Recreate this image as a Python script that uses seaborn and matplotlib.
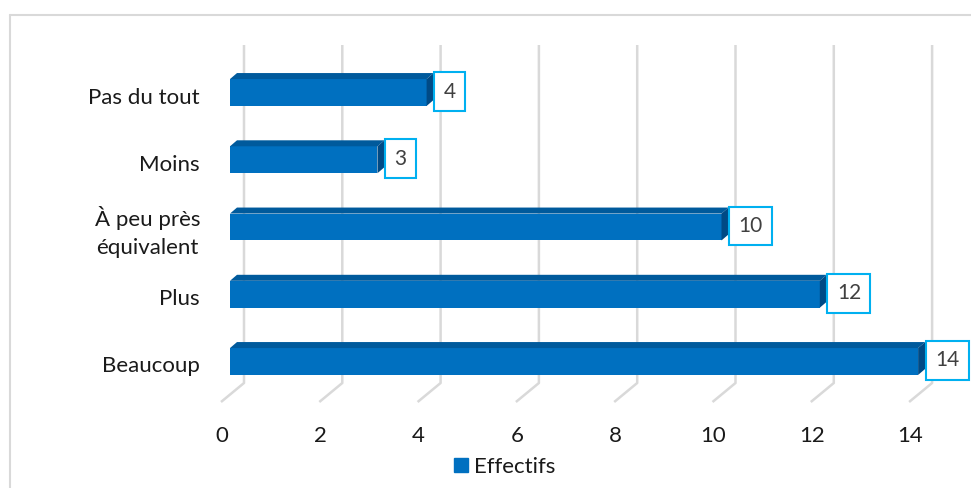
import matplotlib
matplotlib.use("Agg")
import matplotlib.pyplot as plt
from matplotlib.patches import Polygon, Patch
from matplotlib.lines import Line2D
import seaborn as sns
import pandas as pd

# Survey answers and their counts
categories = ["Pas du tout", "Moins", "À peu près\néquivalent", "Plus", "Beaucoup"]
effectifs = [4, 3, 10, 12, 14]
x_ticks = [0, 2, 4, 6, 8, 10, 12, 14]
series_name = "Effectifs"

FRONT = "#0070c0"
TOP = "#005a9c"
SIDE = "#004a85"
GRID = "#d9d9d9"
LABEL_EDGE = "#00b0f0"
TEXT = "#1a1a1a"

sns.set_theme(style="white")
plt.rcParams["font.family"] = ["Lato", "DejaVu Sans"]

W, H = 971, 488
fig = plt.figure(figsize=(W / 100, H / 100), dpi=100)
ax = fig.add_axes([0, 0, 1, 1])

# pixel scale of the plot: one value unit and one category step
PX, PY = 49.15, 67.25
X0, Y0 = 230, 92.5


def dx(p):
    return p / PX


def dy(p):
    return p / PY


df = pd.DataFrame({"Réponse": categories, series_name: effectifs})
sns.barplot(data=df, x=series_name, y="Réponse", orient="h", color=FRONT,
            saturation=1, width=0.4, linewidth=0, ax=ax, zorder=3)

ax.set_xlim(-X0 / PX, (W - X0) / PX)
ax.set_ylim((H - Y0) / PY, -Y0 / PY)
ax.set_axis_off()

# back-wall gridlines with floor edge
y_top, y_floor, y_front = dy(45 - Y0), dy(383 - Y0), dy(402 - Y0)
for v in x_ticks:
    xb = v + dx(14)
    ax.plot([xb, xb, v + dx(-9)], [y_top, y_floor, y_front], color=GRID,
            lw=1.8, solid_capstyle="butt", zorder=1)
    ax.text(v + dx(-8), dy(436 - Y0), str(v), ha="center", va="center",
            fontsize=16, color=TEXT)

# depth faces of each bar and its value label
ddx, ddy = dx(7), dy(6)
for p, v in zip(ax.patches, effectifs):
    x0, w = p.get_x(), p.get_width()
    yt, yb = p.get_y(), p.get_y() + p.get_height()
    top = Polygon([(x0, yt), (x0 + ddx, yt - ddy), (x0 + w + ddx, yt - ddy),
                   (x0 + w, yt)], closed=True, fc=TOP, ec="none", zorder=3)
    side = Polygon([(x0 + w, yt), (x0 + w + ddx, yt - ddy),
                    (x0 + w + ddx, yb - ddy), (x0 + w, yb)], closed=True,
                   fc=SIDE, ec="none", zorder=3)
    ax.add_patch(top)
    ax.add_patch(side)
    ax.text(x0 + w + ddx + dx(10), (yt + yb) / 2 - dy(1), str(v), ha="left",
            va="center", fontsize=15, color="#404040", zorder=4,
            bbox=dict(boxstyle="square,pad=0.45", fc="white",
                      ec=LABEL_EDGE, lw=1.5))

# category labels
for i, c in enumerate(categories):
    ax.text(dx(-30), i + dy(5), c, ha="right", va="center", multialignment="center",
            fontsize=16, color=TEXT, linespacing=1.45)

ax.legend(handles=[Patch(color=FRONT, label=series_name)], loc="center",
          bbox_to_anchor=(505 / W, 1 - 467 / H), bbox_transform=fig.transFigure,
          frameon=False, fontsize=16, handlelength=0.6, handleheight=0.6,
          handletextpad=0.3, labelcolor=TEXT)

# chart border
fig.add_artist(Line2D([10 / W, 10 / W], [0, 1 - 15 / H], transform=fig.transFigure,
                      color=GRID, lw=1.5))
fig.add_artist(Line2D([10 / W, 1], [1 - 15 / H, 1 - 15 / H], transform=fig.transFigure,
                      color=GRID, lw=1.5))

fig.savefig("out.png", dpi=100)
